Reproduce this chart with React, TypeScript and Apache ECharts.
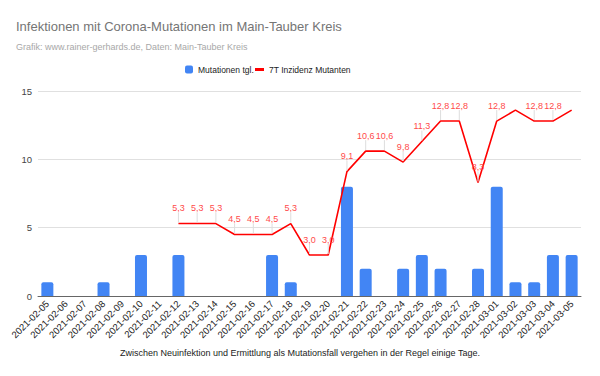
import React, { useEffect, useRef } from "react";
import * as echarts from "echarts";

const categories = [
  "2021-02-05", "2021-02-06", "2021-02-07", "2021-02-08", "2021-02-09", "2021-02-10",
  "2021-02-11", "2021-02-12", "2021-02-13", "2021-02-14", "2021-02-15", "2021-02-16",
  "2021-02-17", "2021-02-18", "2021-02-19", "2021-02-20", "2021-02-21", "2021-02-22",
  "2021-02-23", "2021-02-24", "2021-02-25", "2021-02-26", "2021-02-27", "2021-02-28",
  "2021-03-01", "2021-03-02", "2021-03-03", "2021-03-04", "2021-03-05",
];
const mutationenTgl = [1, 0, 0, 1, 0, 3, 0, 3, 0, 0, 0, 0, 3, 1, 0, 0, 8, 2, 0, 2, 3, 2, 0, 2, 8, 1, 1, 3, 3];
const inzidenz: (number | null)[] = [
  null, null, null, null, null, null, null, 5.3, 5.3, 5.3, 4.5, 4.5, 4.5, 5.3, 3.0, 3.0,
  9.1, 10.6, 10.6, 9.8, 11.3, 12.8, 12.8, 8.3, 12.8, 13.6, 12.8, 12.8, 13.6,
];
const labelShown = [
  false, false, false, false, false, false, false, true, true, true, true, true, true, true, true, true,
  true, true, true, true, true, true, true, true, true, false, true, true, false,
];
const yTicks = [0, 5, 10, 15];

const FONT = "'Liberation Sans', Arial, sans-serif";

export default function App() {
  const ref = useRef<HTMLDivElement>(null);
  useEffect(() => {
    document.body.style.margin = "0";
    if (!ref.current) return;
    const chart = echarts.init(ref.current, null, { renderer: "svg" });
    const annData = inzidenz
      .map((v, i) => (v != null && labelShown[i] ? [i, v] : null))
      .filter((d) => d != null) as number[][];
    chart.setOption({
      animation: false,
      textStyle: { fontFamily: FONT },
      graphic: [
        {
          type: "text",
          left: 16,
          top: 20,
          style: { text: "Infektionen mit Corona-Mutationen im Main-Tauber Kreis", font: `13px ${FONT}`, fill: "#757575" },
        },
        {
          type: "text",
          left: 16,
          top: 42,
          style: { text: "Grafik: www.rainer-gerhards.de, Daten: Main-Tauber Kreis", font: `9px ${FONT}`, fill: "#a8a8a8" },
        },
        {
          type: "text",
          left: "center",
          top: 348,
          style: { text: "Zwischen Neuinfektion und Ermittlung als Mutationsfall vergehen in der Regel einige Tage.", font: `9px ${FONT}`, fill: "#222222" },
        },
      ],
      legend: [
        {
          left: 185,
          top: 65,
          padding: 0,
          itemWidth: 8,
          itemHeight: 8,
          icon: "roundRect",
          textStyle: { fontSize: 8.5, color: "#222", fontFamily: FONT },
          data: ["Mutationen tgl."],
          selectedMode: false,
        },
        {
          left: 255,
          top: 65,
          padding: 0,
          itemWidth: 9,
          itemHeight: 3,
          icon: "rect",
          textStyle: { fontSize: 8.5, color: "#222", fontFamily: FONT },
          data: ["7T Inzidenz Mutanten"],
          selectedMode: false,
        },
      ],
      grid: { left: 38, right: 19, top: 91, bottom: 80 },
      xAxis: {
        type: "category",
        data: categories,
        axisTick: { show: false },
        axisLine: { lineStyle: { color: "#666", width: 1 } },
        axisLabel: { rotate: 45, interval: 0, fontSize: 9.5, color: "#222", margin: 6, fontFamily: FONT },
      },
      yAxis: {
        type: "value",
        min: yTicks[0],
        max: yTicks[yTicks.length - 1],
        interval: 5,
        axisLine: { show: false },
        axisTick: { show: false },
        axisLabel: { fontSize: 9.5, color: "#444", margin: 6, fontFamily: FONT },
        splitLine: { lineStyle: { color: "#e0e0e0" } },
      },
      series: [
        {
          name: "Mutationen tgl.",
          type: "bar",
          data: mutationenTgl.map((v) => (v === 0 ? null : v)),
          barWidth: 12,
          itemStyle: { color: "#4285f4", borderRadius: [2, 2, 0, 0] },
        },
        {
          name: "7T Inzidenz Mutanten",
          type: "line",
          data: inzidenz,
          showSymbol: false,
          connectNulls: false,
          itemStyle: { color: "#ff0000" },
          lineStyle: { color: "#ff0000", width: 1.6 },
          z: 3,
        },
        {
          name: "ann",
          type: "custom",
          data: annData,
          z: 4,
          renderItem: (params: any, api: any) => {
            const x = api.value(0);
            const v = api.value(1);
            const p = api.coord([x, v]);
            return {
              type: "group",
              children: [
                {
                  type: "line",
                  shape: { x1: p[0], y1: p[1] - 1, x2: p[0], y2: p[1] - 11 },
                  style: { stroke: "#dddddd", lineWidth: 1 },
                },
                {
                  type: "text",
                  x: p[0],
                  y: p[1] - 11,
                  style: {
                    text: v.toFixed(1).replace(".", ","),
                    align: "center",
                    verticalAlign: "bottom",
                    font: `9px ${FONT}`,
                    fill: "#ff4a4a",
                  },
                },
              ],
            };
          },
        },
      ],
    });
    return () => chart.dispose();
  }, []);
  return <div ref={ref} style={{ width: 600, height: 376 }} />;
}
